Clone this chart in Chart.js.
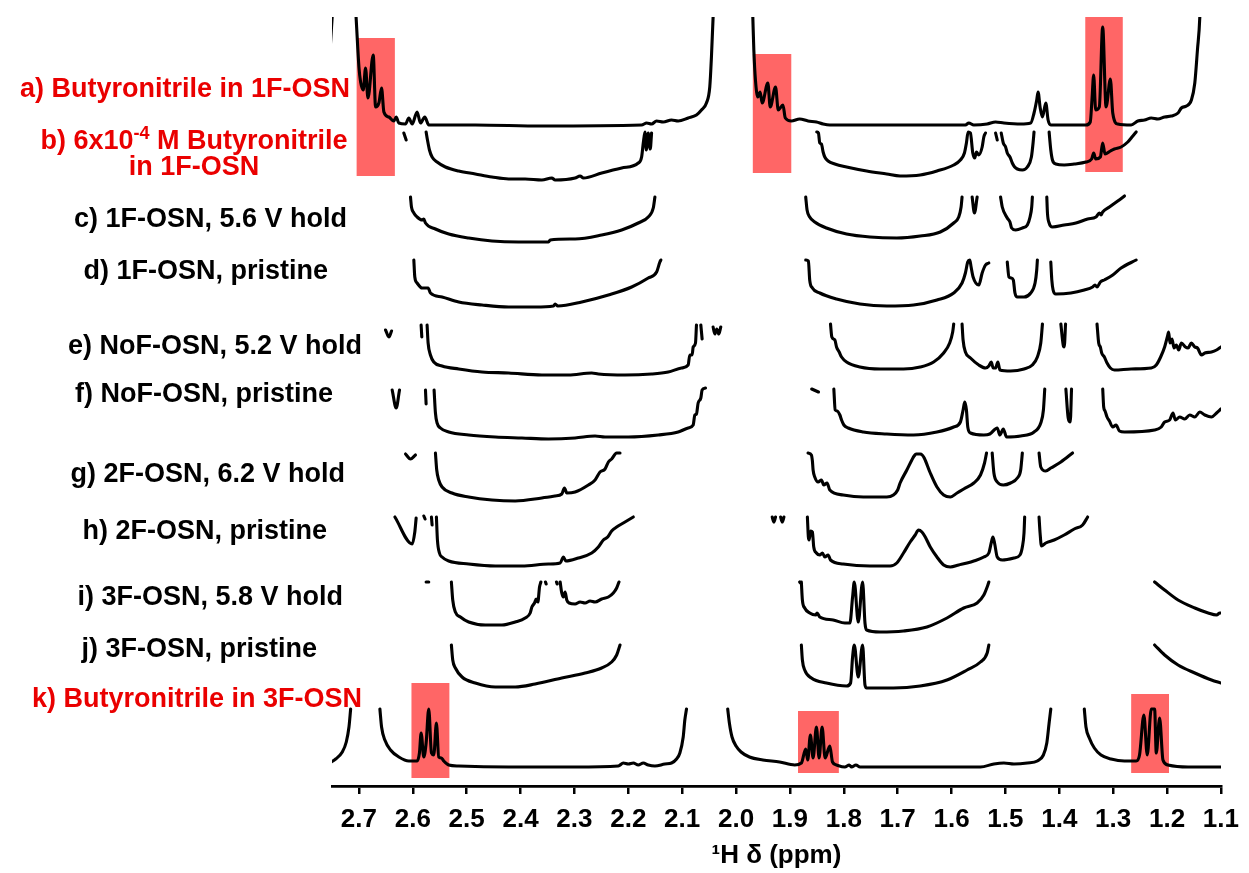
<!DOCTYPE html>
<html>
<head>
<meta charset="utf-8">
<title>1H NMR stack</title>
<script src="https://cdn.jsdelivr.net/npm/chart.js@4.4.1/dist/chart.umd.min.js"></script>
<style>
  html, body { margin: 0; padding: 0; background: #ffffff; }
  canvas { display: block; }
</style>
</head>
<body>
<canvas id="nmr" width="1249" height="873"></canvas>
<script>
// Chemical-shift ticks (ppm)
const tickPpm = [2.7, 2.6, 2.5, 2.4, 2.3, 2.2, 2.1, 2.0, 1.9, 1.8, 1.7, 1.6, 1.5, 1.4, 1.3, 1.2, 1.1];

// Stacked spectra: [ppm, intensity (a.u., incl. stack offset)]; null = trace cut (off-scale region)
const specA = [[2.7543,730],[2.749,775],[2.73,950],[2.706,775],[2.700,719],[2.6969,704],[2.692,696],[2.6877,718],[2.6833,688],[2.6735,731],[2.6691,679],[2.663,683],[2.658,698],[2.6537,674],[2.6444,669],[2.6352,665],[2.6309,669],[2.626,663],[2.6136,662],[2.6074,668],[2.6012,662],[2.592,674],[2.5858,663],[2.5778,669],[2.5704,661],[2.484,661],[2.3605,660],[2.1753,661],[2.166,663],[2.1568,662],[2.1475,665],[2.1352,664],[2.1198,666],[2.1074,665],[2.0889,668],[2.0735,671],[2.0642,676],[2.055,683],[2.0488,699],[2.0457,729],[2.0426,769],[2.03,950],[2.0,1100],[1.98,950],[1.9689,769],[1.967,736],[1.964,706],[1.9596,689],[1.9553,694],[1.9515,683],[1.941,703],[1.9366,679],[1.9267,699],[1.9217,676],[1.913,681],[1.9086,668],[1.8975,665],[1.8819,667],[1.8664,665],[1.8508,664],[1.8384,662],[1.826,661],[1.5743,661],[1.568,663],[1.5587,661],[1.5339,662],[1.5183,664],[1.5028,663],[1.4717,662],[1.4531,663],[1.4469,673],[1.4419,686],[1.4394,694],[1.4357,679],[1.4313,669],[1.4251,683],[1.4208,666],[1.4158,661],[1.3505,661],[1.3425,664],[1.3394,686],[1.3362,711],[1.3325,676],[1.3257,679],[1.3195,759],[1.3132,679],[1.3052,707],[1.3008,673],[1.2915,662],[1.2666,661],[1.2542,665],[1.2418,666],[1.2293,668],[1.2169,667],[1.2045,669],[1.192,670],[1.1796,673],[1.1734,678],[1.1641,680],[1.1548,686],[1.1485,703],[1.1436,736],[1.1392,769],[1.13,950],[1.1,1100]];

const specB = [[2.6167,653],[2.6123,646],null,
  [2.5753,654],[2.5728,646],[2.5691,636],[2.5642,629],[2.5549,624],[2.5395,619],[2.5148,615],[2.484,612],[2.4531,609],[2.4222,607],[2.3914,607],[2.3605,606],[2.342,608],[2.3358,606],[2.2988,608],[2.2895,610],[2.2833,608],[2.2494,613],[2.2123,618],[2.1815,623],[2.1753,629],[2.1722,643],[2.1691,654],[2.1667,636],[2.163,653],[2.1593,637],[2.1568,653],null,
  [1.8502,654],[1.8471,653],[1.8446,643],[1.8415,642],[1.8384,634],[1.8353,629],[1.8291,625],[1.8167,622],[1.7949,619],[1.7576,615],[1.7203,612],[1.6955,610],[1.6582,611],[1.6271,615],[1.596,621],[1.5836,626],[1.5761,633],[1.5724,643],[1.5693,654],[1.565,653],[1.5606,633],[1.5569,628],[1.5538,634],[1.5494,631],[1.5432,639],[1.5401,649],[1.537,653],null,
  [1.5183,653],[1.5152,646],null,
  [1.5078,653],[1.504,643],[1.4997,639],[1.4966,633],[1.4916,629],[1.4873,623],[1.4829,619],[1.4779,617],[1.4686,616],[1.4593,619],[1.4518,629],[1.4487,643],[1.4469,654],null,
  [1.4189,654],[1.4158,636],[1.4127,626],[1.4065,622],[1.3909,621],[1.3723,622],[1.3505,624],[1.34,627],[1.3362,633],[1.3325,627],[1.3238,629],[1.3195,643],[1.3151,632],[1.3052,635],[1.2977,637],[1.2853,639],[1.2729,644],[1.2635,650],[1.2573,654]];

const specC = [[2.6043,589],[2.6025,579],[2.5981,573],[2.592,569],[2.5827,566],[2.5796,567],[2.5765,563],[2.558,557],[2.5333,552],[2.4963,548],[2.4531,545],[2.4037,544],[2.3481,544],[2.345,546],[2.2988,547],[2.2494,551],[2.2123,556],[2.1815,563],[2.163,569],[2.1537,578],[2.1506,589],null,
  [1.8707,589],[1.8682,576],[1.8633,569],[1.8539,564],[1.8322,558],[1.7949,552],[1.7514,549],[1.7017,548],[1.6582,550],[1.6209,554],[1.596,563],[1.5867,569],[1.5823,579],[1.5805,589],null,
  [1.5618,589],[1.5575,573],[1.5525,589],null,
  [1.509,589],[1.5059,579],[1.4966,568],[1.4916,564],[1.4885,558],[1.4811,556],[1.4686,558],[1.4593,561],[1.4543,569],[1.4512,579],[1.45,589],null,
  [1.4232,589],[1.422,573],[1.4189,563],[1.4127,559],[1.3909,561],[1.3692,563],[1.3474,567],[1.3319,569],[1.3257,573],[1.3226,571],[1.3195,574],[1.307,579],[1.2915,585],[1.279,590]];

const specD = [[2.5981,526],[2.5963,509],[2.592,503],[2.5827,498],[2.5716,498],[2.5673,493],[2.5457,489],[2.5148,484],[2.4716,481],[2.4222,479],[2.3728,479],[2.3389,480],[2.3358,482],[2.3309,480],[2.2864,484],[2.237,491],[2.1938,499],[2.163,508],[2.1475,514],[2.1414,524],[2.1395,526],null,
  [1.8707,526],[1.8657,525],[1.8633,506],[1.8583,498],[1.8446,493],[1.8135,487],[1.77,482],[1.7203,480],[1.6706,481],[1.6271,486],[1.596,493],[1.5805,503],[1.5743,513],[1.57,524],[1.5662,526],[1.5637,519],[1.56,509],[1.5494,501],[1.5432,513],[1.537,521],[1.5308,523],null,
  [1.4966,524],[1.4935,509],[1.4891,508],[1.4854,506],[1.4823,493],[1.4779,489],[1.4655,489],[1.4531,493],[1.445,503],[1.4419,516],[1.4407,526],null,
  [1.4158,524],[1.4139,506],[1.4115,496],[1.4065,492],[1.3785,493],[1.3536,496],[1.3381,499],[1.3337,501],[1.33,499],[1.3238,504],[1.3164,506],[1.3008,511],[1.2853,518],[1.2573,526]];

const specE = [[2.6506,456],[2.6444,449],[2.6395,455],null,
  [2.5846,461],[2.5833,449],null,
  [2.5735,461],[2.5716,443],[2.5673,431],[2.5611,424],[2.5457,420],[2.5148,417],[2.4716,414],[2.4222,413],[2.3605,411],[2.3111,411],[2.2679,413],[2.2556,412],[2.2062,411],[2.1568,412],[2.1259,414],[2.1012,418],[2.0889,421],[2.0858,431],[2.0815,431],[2.0796,439],[2.0753,443],[2.0735,461],null,
  [2.0654,461],[2.063,447],null,
  [2.0426,459],[2.0395,452],[2.0358,457],[2.0321,452],[2.0284,459],null,
  [1.8247,462],[1.8222,449],[1.8166,446],[1.8135,439],[1.8086,434],[1.8042,429],[1.7949,424],[1.77,419],[1.7327,417],[1.6892,417],[1.6582,419],[1.6333,424],[1.6147,433],[1.6035,443],[1.5979,454],[1.596,462],null,
  [1.5805,462],[1.5786,446],[1.5743,434],[1.5649,428],[1.5494,421],[1.537,418],[1.5308,420],[1.5264,424],[1.5227,418],[1.5183,418],[1.514,424],[1.5103,416],[1.4904,415],[1.4655,417],[1.45,421],[1.4407,429],[1.4344,443],[1.4313,462],null,
  [1.3971,462],[1.3928,441],[1.3909,439],[1.3884,462],null,
  [1.33,462],[1.3269,443],[1.3238,439],[1.3213,433],[1.3164,429],[1.3114,423],[1.3052,418],[1.2977,416],[1.2666,417],[1.2293,418],[1.22,421],[1.2119,429],[1.2045,439],[1.1995,449],[1.197,454],[1.1945,443],[1.1908,447],[1.1871,438],[1.1827,441],[1.1784,436],[1.1734,443],[1.1659,439],[1.161,438],[1.1548,443],[1.1485,439],[1.1436,438],[1.1361,431],[1.1299,433],[1.1175,434],[1.1081,436],[1.1,439]];

const specF = [[2.6383,396],[2.6309,378],[2.6247,396],null,
  [2.5765,396],[2.5753,382],null,
  [2.5605,396],[2.558,373],[2.5549,363],[2.5488,358],[2.5333,354],[2.4963,351],[2.4469,349],[2.3975,348],[2.3481,347],[2.2988,348],[2.2617,350],[2.2432,349],[2.2,349],[2.1444,351],[2.1074,354],[2.0889,358],[2.0796,361],[2.0765,371],[2.0735,372],[2.0704,383],[2.0654,388],[2.063,396],[2.0568,398],null,
  [1.8595,397],[1.8471,394],null,
  [1.8185,397],[1.816,376],[1.8123,375],[1.8073,371],[1.8042,366],[1.7999,361],[1.7918,358],[1.7638,354],[1.7203,352],[1.6706,351],[1.6271,354],[1.596,359],[1.5836,364],[1.5786,376],[1.5755,384],[1.5724,376],[1.5699,359],[1.5649,353],[1.5401,351],[1.529,352],[1.5152,358],[1.5103,351],[1.504,357],[1.4978,349],[1.4717,350],[1.4469,354],[1.4344,363],[1.4295,376],[1.427,397],null,
  [1.3878,397],[1.3835,368],[1.3797,364],[1.3773,397],null,
  [1.3194,397],[1.3176,379],[1.3151,375],[1.3114,369],[1.307,365],[1.3008,359],[1.2946,361],[1.2884,355],[1.279,354],[1.2231,356],[1.2107,359],[1.2045,364],[1.1952,366],[1.1889,373],[1.1846,366],[1.1765,369],[1.1672,367],[1.1579,371],[1.1485,369],[1.1392,374],[1.1299,371],[1.1175,369],[1.1081,373],[1.1,377]];

const specG = [[2.6136,332],[2.6043,327],[2.5951,331],null,
  [2.558,333],[2.5556,316],[2.5519,306],[2.5457,299],[2.5272,293],[2.4963,289],[2.4531,286],[2.4099,285],[2.3605,288],[2.3358,290],[2.3235,292],[2.3185,298],[2.3142,293],[2.2988,294],[2.2741,301],[2.2617,306],[2.2525,314],[2.2432,317],[2.237,324],[2.2309,327],[2.2216,333],[2.2154,333],null,
  [1.8664,333],[1.8602,331],[1.8583,325],[1.857,316],[1.8539,309],[1.8477,304],[1.8415,306],[1.8372,301],[1.831,303],[1.826,296],[1.8011,291],[1.7638,289],[1.7203,289],[1.7079,291],[1.7,296],[1.6955,303],[1.683,316],[1.6737,326],[1.6695,330],[1.6656,332],[1.6582,332],[1.6545,331],[1.6507,328],[1.6395,313],[1.6271,299],[1.6147,291],[1.6022,289],[1.5898,293],[1.5774,297],[1.5587,303],[1.5463,311],[1.5388,323],[1.5351,333],null,
  [1.5246,333],[1.5214,313],[1.5152,304],[1.504,301],[1.4904,303],[1.4779,308],[1.4717,316],[1.4686,333],null,
  [1.4376,333],[1.4344,319],[1.4251,315],[1.4158,318],[1.3971,324],[1.3754,333]];

const specH = [[2.6333,269],[2.6012,242],[2.5963,254],[2.5938,268],null,
  [2.5796,270],[2.5772,267],null,
  [2.5654,269],[2.5642,261],null,
  [2.5562,269],[2.5543,246],[2.5506,233],[2.5457,229],[2.5333,225],[2.4963,222],[2.4469,220],[2.3975,220],[2.3481,222],[2.3265,223],[2.3204,229],[2.316,225],[2.2926,228],[2.2679,233],[2.2556,239],[2.2463,246],[2.2383,249],[2.2309,255],[2.2216,259],[2.2093,263],[2.2,266],[2.1907,269],null,
  [1.9329,269],[1.9298,264],[1.9267,269],null,
  [1.9173,269],[1.9142,264],[1.9111,269],null,
  [1.8676,269],[1.8658,249],[1.8645,246],[1.8614,255],[1.8583,254],[1.8558,239],[1.8508,233],[1.8446,231],[1.8397,233],[1.8353,229],[1.8291,231],[1.8247,226],[1.8011,222],[1.7514,220],[1.7141,220],[1.7017,223],[1.6892,233],[1.6768,244],[1.6675,251],[1.6613,256],[1.655,254],[1.6488,249],[1.6395,239],[1.6271,229],[1.6147,221],[1.6022,219],[1.5867,221],[1.5712,223],[1.5587,225],[1.5401,229],[1.5308,233],[1.5264,243],[1.5233,249],[1.5202,243],[1.5152,229],[1.5059,226],[1.4841,228],[1.473,231],[1.4686,239],[1.4655,253],[1.4643,269],null,
  [1.4376,269],[1.4357,253],[1.4332,240],[1.4251,243],[1.4096,246],[1.3909,251],[1.3723,257],[1.3567,261],[1.3474,269]];

const specI = [[2.5753,204],[2.5704,204],null,
  [2.5284,204],[2.5259,186],[2.521,174],[2.5117,169],[2.4963,164],[2.4654,161],[2.4346,161],[2.41,164],[2.3914,168],[2.3821,173],[2.379,179],[2.3741,183],[2.371,187],[2.3679,184],[2.3648,199],[2.3623,204],null,
  [2.3537,204],[2.3525,202],null,
  [2.3333,204],[2.3321,202],null,
  [2.3265,204],[2.3235,193],[2.3204,189],[2.3173,194],[2.3142,186],[2.3099,183],[2.2988,182],[2.2895,184],[2.2802,183],[2.271,185],[2.2617,184],[2.2494,187],[2.237,189],[2.2278,193],[2.2216,198],[2.2173,204],null,
  [1.8819,204],[1.8807,203],null,
  [1.8788,204],[1.8769,186],[1.8726,178],[1.8633,173],[1.8521,171],[1.8496,173],[1.8446,169],[1.8198,166],[1.798,163],[1.7887,163],[1.7837,189],[1.7806,204],[1.7732,164],[1.7651,204],[1.7607,163],[1.7576,156],[1.7327,154],[1.6892,155],[1.6457,159],[1.6085,168],[1.5774,178],[1.5525,183],[1.5401,191],[1.5339,199],[1.5308,204],null,
  [1.2231,204],[1.2045,196],[1.1796,186],[1.1485,178],[1.1237,173],[1.1081,171],[1.1019,173],[1.1,173]];

const specJ = [[2.5284,141],[2.5259,126],[2.521,118],[2.5086,109],[2.484,103],[2.4469,99],[2.41,99],[2.3728,102],[2.3235,108],[2.2802,113],[2.2494,118],[2.2309,124],[2.2216,131],[2.2154,141],null,
  [1.8788,141],[1.8769,126],[1.8726,116],[1.8602,108],[1.8322,103],[1.7949,100],[1.7874,103],[1.7837,129],[1.7806,141],[1.7732,109],[1.7651,141],[1.7607,101],[1.7576,98],[1.7079,98],[1.6582,100],[1.6085,106],[1.5712,116],[1.5463,124],[1.5339,133],[1.5308,141],null,
  [1.2231,141],[1.2045,131],[1.1796,121],[1.1485,113],[1.1175,106],[1.1,103]];

const specK = [[2.7543,23],[2.7432,27],[2.7309,34],[2.7235,44],[2.7185,59],[2.7154,77],null,
  [2.6611,77],[2.658,59],[2.6519,46],[2.6414,36],[2.6259,29],[2.6074,25],[2.592,25],[2.5877,33],[2.5846,53],[2.5796,29],[2.5753,43],[2.5704,77],[2.5654,33],[2.5611,31],[2.5562,63],[2.5519,29],[2.5469,28],[2.5426,25],[2.5333,21],[2.5148,20],[2.4222,19],[2.2988,19],[2.2185,20],[2.2093,23],[2.2,22],[2.1907,23],[2.1815,21],[2.1722,23],[2.163,21],[2.1506,20],[2.1321,22],[2.1198,23],[2.1105,27],[2.1043,33],[2.0981,49],[2.0951,66],[2.092,77],null,
  [2.0155,77],[2.0124,63],[2.0075,49],[2.0,40],[1.9907,34],[1.9751,29],[1.9503,26],[1.9192,24],[1.8912,21],[1.8788,23],[1.8707,37],[1.867,26],[1.862,51],[1.857,28],[1.8508,59],[1.8459,28],[1.8403,59],[1.8347,28],[1.826,40],[1.821,24],[1.8135,21],[1.798,19],[1.7899,21],[1.7856,19],[1.7775,21],[1.77,19],[1.6582,19],[1.5463,19],[1.5214,22],[1.5028,23],[1.4841,22],[1.4593,23],[1.4407,25],[1.4295,31],[1.4232,43],[1.4189,63],[1.4158,77],null,
  [1.3536,77],[1.3505,59],[1.3443,48],[1.335,38],[1.3226,31],[1.3039,27],[1.2791,25],[1.2573,25],[1.2511,31],[1.243,71],[1.2368,31],[1.2293,77],[1.2231,77],[1.22,33],[1.2138,68],[1.2076,26],[1.1983,21],[1.161,19],[1.1,19]];

const spectra = [specA, specB, specC, specD, specE, specF, specG, specH, specI, specJ, specK];

// Sample names, top to bottom
const sampleLabels = [
  'a) Butyronitrile in 1F-OSN',
  'b) 6x10|-4| M Butyronitrile\nin 1F-OSN',
  'c) 1F-OSN, 5.6 V hold',
  'd) 1F-OSN, pristine',
  'e) NoF-OSN, 5.2 V hold',
  'f) NoF-OSN, pristine',
  'g) 2F-OSN, 6.2 V hold',
  'h) 2F-OSN, pristine',
  'i) 3F-OSN, 5.8 V hold',
  'j) 3F-OSN, pristine',
  'k) Butyronitrile in 3F-OSN'
];
const highlightedSamples = [0, 1, 10];

// Butyronitrile resonances marked in a) and k): [ppm from, ppm to, intensity from, intensity to]
const butyronitrileBands = [
  [2.7043, 2.6333, 610, 748],
  [1.9689, 1.8975, 613, 732],
  [1.3518, 1.2822, 614, 769],
  [2.6025, 2.5321, 8, 103],
  [1.885, 1.8092, 13, 75],
  [1.2666, 1.1964, 13, 92]
];

// Label placement (layout): intensity level of each text line and its right edge in px
const labelLayout = [
  { level: 696, right: 350 },
  { level: 644, center: 194, lineStep: 26 },
  { level: 566, right: 347 },
  { level: 514, right: 328 },
  { level: 439, right: 362 },
  { level: 391, right: 333 },
  { level: 311, right: 345 },
  { level: 254, right: 327 },
  { level: 188, right: 343 },
  { level: 136, right: 317 },
  { level: 86, right: 362 }
];

const FONT = '"Liberation Sans", Arial, Helvetica, sans-serif';
const RED = '#ea0000';

function toPoints(arr) {
  const out = [];
  let lastX = null;
  for (const p of arr) {
    if (p === null) {
      out.push({ x: lastX, y: null });
    } else {
      out.push({ x: p[0], y: p[1] });
      lastX = p[0];
    }
  }
  return out;
}

const bandPlugin = {
  id: 'bands',
  beforeDatasetsDraw(chart) {
    const { ctx, scales: { x, y } } = chart;
    ctx.save();
    ctx.fillStyle = '#ff6666';
    for (const b of butyronitrileBands) {
      const x0 = x.getPixelForValue(b[0]);
      const x1 = x.getPixelForValue(b[1]);
      const y0 = y.getPixelForValue(b[2]);
      const y1 = y.getPixelForValue(b[3]);
      ctx.fillRect(Math.min(x0, x1), Math.min(y0, y1), Math.abs(x1 - x0), Math.abs(y1 - y0));
    }
    ctx.restore();
  }
};

// draws a line that may contain a |superscript| part
function drawRich(ctx, text, x, y, align, size) {
  const parts = text.split('|');
  const supSize = Math.round(size * 0.66);
  const widths = parts.map((t, i) => {
    ctx.font = 'bold ' + (i % 2 ? supSize : size) + 'px ' + FONT;
    return ctx.measureText(t).width;
  });
  const total = widths.reduce((s, w) => s + w, 0);
  let cx = align === 'right' ? x - total : (align === 'center' ? x - total / 2 : x);
  ctx.textAlign = 'left';
  parts.forEach((t, i) => {
    const sup = i % 2 === 1;
    ctx.font = 'bold ' + (sup ? supSize : size) + 'px ' + FONT;
    ctx.fillText(t, cx, sup ? y - size * 0.28 : y);
    cx += widths[i];
  });
}

const labelPlugin = {
  id: 'sampleLabels',
  afterDraw(chart) {
    const { ctx, scales: { y } } = chart;
    ctx.save();
    ctx.textBaseline = 'middle';
    sampleLabels.forEach((label, i) => {
      const lay = labelLayout[i];
      ctx.fillStyle = highlightedSamples.includes(i) ? RED : '#000000';
      const lines = label.split('\n');
      lines.forEach((line, k) => {
        const py = y.getPixelForValue(lay.level) + k * (lay.lineStep || 0);
        if (lay.center !== undefined) {
          drawRich(ctx, line, lay.center, py, 'center', 27);
        } else {
          drawRich(ctx, line, lay.right, py, 'right', 27);
        }
      });
    });
    ctx.restore();
  }
};

new Chart(document.getElementById('nmr'), {
  type: 'line',
  data: {
    datasets: spectra.map(s => ({
      data: toPoints(s),
      borderColor: '#000000',
      borderWidth: 3.1,
      pointRadius: 0,
      pointHoverRadius: 0,
      cubicInterpolationMode: 'monotone',
      spanGaps: false,
      fill: false,
      borderJoinStyle: 'round',
      borderCapStyle: 'round'
    }))
  },
  options: {
    responsive: false,
    animation: false,
    devicePixelRatio: 1,
    events: [],
    layout: { padding: { top: 17, left: 332, right: 23, bottom: 0 } },
    plugins: { legend: { display: false }, tooltip: { enabled: false } },
    scales: {
      x: {
        type: 'linear',
        reverse: true,
        min: 1.1,
        max: 2.75,
        afterBuildTicks(scale) { scale.ticks = tickPpm.map(v => ({ value: v })); },
        afterFit(scale) { scale.height = 87; },
        grid: {
          display: true,
          drawOnChartArea: false,
          drawTicks: true,
          tickLength: 8,
          tickWidth: 2.5,
          tickColor: '#000000',
          color: '#000000',
          lineWidth: 2.5
        },
        border: { display: true, color: '#000000', width: 2.8 },
        ticks: {
          autoSkip: false,
          maxRotation: 0,
          minRotation: 0,
          padding: 10,
          color: '#000000',
          font: { family: FONT, size: 26, weight: 'bold' },
          callback: v => Number(v).toFixed(1)
        },
        title: {
          display: true,
          text: '¹H δ (ppm)',
          color: '#000000',
          font: { family: FONT, size: 26, weight: 'bold' },
          padding: { top: 0, bottom: 2 }
        }
      },
      y: {
        type: 'linear',
        display: false,
        min: 0,
        max: 769
      }
    }
  },
  plugins: [bandPlugin, labelPlugin]
});
</script>
</body>
</html>
